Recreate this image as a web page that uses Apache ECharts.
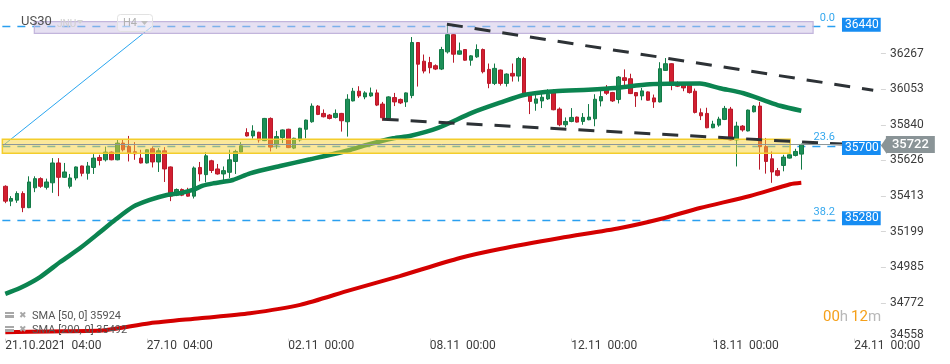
<!DOCTYPE html>
<html><head><meta charset="utf-8">
<script src="https://cdn.jsdelivr.net/npm/echarts@6/dist/echarts.min.js"></script>
<style>html,body{margin:0;padding:0;background:#fff}#c{width:950px;height:364px}</style>
</head><body><div id="c"></div>
<script>
// ---- data (H4 candles, US30) ----
const opens  = [35471,35382,35388,35428,35343,35462,35517,35465,35492,35611,35525,35471,35521,35593,35549,35584,35644,35630,35676,35630,35730,35709,35678,35640,35611,35696,35617,35684,35587,35418,35452,35446,35412,35584,35541,35624,35575,35545,35555,35620,35676,35793,35773,35795,35745,35878,35719,35763,35813,35700,35749,35813,35858,35952,35908,35898,35884,35908,35858,35983,36041,36007,36013,36031,35964,35878,36003,35992,35977,36015,36333,36221,36213,36194,36174,36277,36380,36263,36291,36227,36247,36291,36172,36088,36168,36088,36148,36132,36237,36029,35969,35983,35995,36033,35934,35840,35860,35886,35860,35870,35876,35983,36053,36033,35992,36122,36116,36033,36013,36037,36001,35977,36166,36206,36081,36077,36077,36041,35912,35908,35822,35838,35872,35934,35749,35832,35803,35918,35952,35709,35636,35565,35596,35640,35656,35664];
const closes = [35382,35398,35428,35343,35497,35517,35471,35497,35611,35525,35557,35521,35587,35549,35593,35640,35626,35676,35630,35730,35690,35670,35666,35611,35690,35617,35684,35575,35412,35452,35418,35412,35581,35545,35654,35566,35545,35565,35630,35680,35714,35773,35803,35749,35878,35706,35769,35809,35703,35759,35819,35868,35952,35902,35888,35878,35908,35864,35993,36041,36013,36031,36031,35958,35882,36007,35977,35971,36031,36333,36203,36162,36182,36174,36291,36380,36263,36283,36227,36253,36291,36158,36088,36178,36088,36144,36132,36237,36025,35980,35995,36005,36023,35930,35840,35860,35884,35856,35884,35886,35993,36009,36029,35983,36126,36106,36027,36013,36043,35987,35977,36176,36206,36077,36071,36061,36033,35914,35894,35822,35844,35874,35938,35749,35832,35809,35928,35952,35709,35620,35557,35537,35646,35660,35680,35722];
const lows   = [35370,35352,35372,35316,35340,35436,35462,35452,35432,35412,35521,35458,35507,35531,35511,35545,35596,35620,35627,35627,35680,35620,35630,35608,35608,35584,35557,35497,35382,35412,35412,35409,35398,35501,35495,35551,35541,35486,35521,35545,35673,35769,35757,35733,35742,35680,35696,35730,35700,35694,35739,35759,35852,35898,35884,35872,35878,35799,35769,35980,36001,35993,36007,35952,35864,35872,35952,35964,35947,35999,36069,36148,36148,36168,36168,36267,36212,36260,36224,36194,36241,36148,36059,36078,36075,36069,36099,36099,36019,35904,35924,35940,35989,35927,35831,35825,35855,35853,35840,35867,35831,35950,36019,35977,35968,36057,36024,35947,35987,35984,35941,35974,36163,36047,36066,36041,36027,35908,35868,35819,35819,35828,35868,35746,35590,35799,35800,35914,35571,35547,35492,35531,35561,35637,35650,35571];
const highs  = [35477,35412,35441,35441,35531,35531,35525,35517,35640,35640,35611,35545,35590,35595,35617,35664,35660,35709,35680,35749,35749,35773,35736,35690,35693,35709,35700,35706,35590,35458,35458,35462,35590,35617,35676,35630,35605,35590,35690,35690,35736,35819,35837,35798,35881,35884,35803,35812,35816,35762,35822,35871,35968,35958,35932,35904,35932,35911,36023,36061,36071,36041,36063,36051,35977,36011,36031,35997,36034,36366,36336,36261,36247,36202,36307,36438,36383,36333,36294,36257,36322,36297,36207,36207,36171,36148,36207,36247,36247,36035,36023,36029,36053,36053,35944,35884,35940,35889,35910,35964,36023,36055,36078,36037,36132,36172,36146,36036,36061,36040,36021,36215,36240,36209,36100,36087,36081,36057,35938,35942,35864,35888,35953,35947,35858,35838,35931,35958,35977,35761,35680,35581,35660,35663,35696,35727];

const sma50Idx = [0,2.5,5.9,9.3,12.7,16.1,18.6,21.7,24.5,27.4,29.6,31.8,33.5,35.3,38.6,41.5,46.6,51.7,58.5,61.3,65.8,68.6,73.4,79.1,83.9,88.1,93.2,98.9,103.4,109.3,117.8,121.2,125.2,128.6,131.4,135];
const sma50Val = [34826,34861,34927,35017,35101,35197,35269,35349,35389,35419,35429,35449,35475,35489,35509,35549,35593,35633,35689,35719,35759,35773,35821,35911,35972,36020,36041,36050,36060,36083,36087,36059,36029,35988,35954,35924];
const sma200Idx = [0,7.6,16.1,24.5,33,41.5,50,58.5,66.9,77.1,83.9,94.1,104.3,111.1,117.8,126.3,133.1,135];
const sma200Val = [34596,34601,34606,34650,34680,34710,34760,34849,34933,35041,35095,35161,35221,35275,35341,35413,35483,35492];

const xTickIdx  = [0,24,48,72,96,120,144];
const xTickText = ['21.10.2021  04:00','27.10  04:00','02.11  00:00','08.11  00:00','12.11  00:00','18.11  00:00','24.11  00:00'];
const yTicks = [34558,34772,34985,35199,35413,35626,35840,36053,36267];

const fibLevels = [36430, 35714, 35266];
const fibNames  = ['0.0', '23.6', '38.2'];
const priceTags = [36440, 35700, 35280];
const lastPrice = 35722;
const smaLegend = ['SMA [50, 0] 35924', 'SMA [200, 0] 35492'];

const upperTrend = [[74.9, 36443], [147.2, 36047]];
const lowerTrend = [[64.0, 35873], [142.1, 35724]];
const fibDiagonal = [[-0.44, 35714], [24.83, 36428]];
const yellowZone = [[-0.5, 35753], [133.1, 35669]];
const purpleZone = [[4.92, 36458], [137.0, 36388]];

// ---- chart ----
const chart = echarts.init(document.getElementById('c'), null, {renderer: 'canvas'});
const FONT = 'Roboto';
const candleData = opens.map((o, i) => [i, o, closes[i], lows[i], highs[i]]);
const tagEnd = 141.9;

const option = {
  animation: false,
  backgroundColor: '#ffffff',
  textStyle: {fontFamily: FONT},
  grid: {left: 2.35, right: 69.1, top: 8, bottom: 25.4, containLabel: false, outerBoundsMode: 'none'},
  xAxis: {
    type: 'value', min: -0.5, max: 148.5,
    splitLine: {show: false}, axisLine: {show: false, onZero: false},
    axisTick: {show: true, customValues: xTickIdx, length: 3, lineStyle: {color: '#d6d6d6'}},
    axisLabel: {
      customValues: xTickIdx, align: 'left', margin: 1,
      color: '#3b3b3b', fontSize: 12, fontFamily: FONT,
      formatter: v => { const k = xTickIdx.indexOf(Math.round(v)); return k >= 0 ? xTickText[k] : ''; }
    }
  },
  yAxis: {
    type: 'value', position: 'right', min: 34558, max: 36540, scale: true,
    splitLine: {show: false}, axisLine: {show: false, onZero: false},
    axisTick: {show: true, customValues: yTicks.slice(1), length: 5, lineStyle: {color: '#d6d6d6'}},
    axisLabel: {
      customValues: yTicks, margin: 9, color: '#3b3b3b', fontSize: 12, fontFamily: FONT,
      formatter: v => Math.round(v) === yTicks[0] ? '{lo|' + Math.round(v) + '}' : String(Math.round(v)),
      rich: {lo: {padding: [0, 0, 8, 0], color: '#3b3b3b', fontSize: 12, fontFamily: FONT}}
    }
  },
  series: [
    {
      name: 'fib', type: 'line', data: [], silent: true,
      markLine: {
        silent: true, symbol: ['none', 'none'], z: 1, animation: false,
        data: fibLevels.map((v, k) => [
          {coord: [-0.5, v], lineStyle: {color: '#2a9ff0', width: 1.3, type: [8, 7]},
           label: {show: true, formatter: fibNames[k], position: 'insideEndTop', distance: [7, 3],
                   color: '#35a8ee', fontSize: 11, fontFamily: FONT}},
          {coord: [tagEnd, v]}
        ]).concat([[
          {coord: fibDiagonal[0], lineStyle: {color: '#2aa6f0', width: 1, type: 'solid'}, label: {show: false}},
          {coord: fibDiagonal[1]}
        ]])
      }
    },
    {
      name: 'US30', type: 'candlestick', data: candleData, encode: {x: 0, y: [1, 2, 3, 4]},
      barWidth: 4, z: 2,
      itemStyle: {color: '#1d8f58', color0: '#d21f30', borderColor: '#137a46', borderColor0: '#b9192a', borderWidth: 1}
    },
    {
      name: 'SMA50', type: 'line', z: 3, showSymbol: false, smooth: 0.25,
      data: sma50Idx.map((x, i) => [x, sma50Val[i]]),
      lineStyle: {color: '#0b8450', width: 4.5}
    },
    {
      name: 'SMA200', type: 'line', z: 3, showSymbol: false, smooth: 0.25,
      data: sma200Idx.map((x, i) => [x, sma200Val[i]]),
      lineStyle: {color: '#d40000', width: 4}
    },
    {
      name: 'zones', type: 'line', data: [], silent: true,
      markArea: {
        silent: true, z: 4,
        data: [
          [{coord: yellowZone[0], itemStyle: {color: 'rgba(247,209,53,0.5)', borderColor: '#f3cd2c', borderWidth: 1.5}},
           {coord: yellowZone[1]}],
          [{coord: purpleZone[0], itemStyle: {color: 'rgba(205,193,229,0.5)', borderColor: '#c2b5dc', borderWidth: 1.2}},
           {coord: purpleZone[1]}]
        ]
      }
    },
    {
      name: 'trend', type: 'line', data: [], silent: true,
      markLine: {
        silent: true, symbol: ['none', 'none'], z: 5,
        lineStyle: {color: '#2d3236', width: 3, type: [16, 12]},
        label: {show: false},
        data: [
          [{coord: upperTrend[0]}, {coord: upperTrend[1]}],
          [{coord: lowerTrend[0]}, {coord: lowerTrend[1]}]
        ]
      }
    },
    {
      name: 'tags', type: 'line', data: [], silent: true,
      markLine: {
        silent: true, symbol: ['none', 'none'], z: 6,
        data: [[
          {coord: [-0.5, lastPrice], lineStyle: {color: '#8d979a', width: 1, type: 'solid'},
           label: {show: true, position: 'end', distance: 5, formatter: String(lastPrice),
                   backgroundColor: '#8a9497', color: '#ffffff', fontSize: 13, fontWeight: 500,
                   fontFamily: FONT, padding: [2, 6, 2, 6]}},
          {coord: [148.5, lastPrice]}
        ]].concat(priceTags.map(v => [
          {coord: [tagEnd - 1, v], lineStyle: {color: 'rgba(0,0,0,0)', width: 0.01, type: 'solid'},
           label: {show: true, position: 'end', distance: 0, formatter: String(v),
                   backgroundColor: '#168cf2', color: '#ffffff', fontSize: 12, fontFamily: FONT,
                   padding: [1, 2, 1, 3], lineHeight: 12}},
          {coord: [tagEnd, v]}
        ]))
      },
      markPoint: {
        silent: true, z: 6,
        data: [{coord: [148.5, lastPrice], symbol: 'path://M0,8 L6,0 L6,16 Z', symbolSize: [6, 17],
                symbolOffset: [3, 1], itemStyle: {color: '#8a9497'}, label: {show: false}}]
      }
    }
  ],
  graphic: [
    {type: 'text', left: 21, top: 15, z: 20, style: {text: 'US30', fontSize: 13, fontFamily: FONT, fill: '#505050'}},
    {type: 'text', left: 57, top: 19, z: 20, style: {text: 'JNU', fontSize: 10, fontFamily: FONT, fill: '#cfcfcf'}},
    {type: 'polygon', z: 20, shape: {points: [[77, 20], [83, 20], [80, 24]]}, style: {fill: '#d2d2d2'}},
    {type: 'rect', z: 20, shape: {x: 117.5, y: 14.5, width: 35, height: 17, r: 3}, style: {fill: 'rgba(255,255,255,0.35)', stroke: '#e2e2e2', lineWidth: 1}},
    {type: 'text', left: 123, top: 18, z: 21, style: {text: 'H4', fontSize: 11, fontFamily: FONT, fill: '#b0b0b0'}},
    {type: 'polygon', z: 21, shape: {points: [[141, 21], [148, 21], [144.5, 25]]}, style: {fill: '#bdbdbd'}},
    // legend icons
    {type: 'rect', z: 20, shape: {x: 5, y: 312, width: 9, height: 2}, style: {fill: '#a8a8a8'}},
    {type: 'rect', z: 20, shape: {x: 5, y: 315, width: 9, height: 3}, style: {fill: '#a8a8a8'}},
    {type: 'text', left: 19, top: 311, z: 20, style: {text: '✖', fontSize: 9, fontFamily: 'DejaVu Sans', fill: '#a8a8a8'}},
    {type: 'text', left: 32, top: 311, z: 20, style: {text: smaLegend[0], fontSize: 11, fontFamily: FONT, fill: '#555555'}},
    {type: 'rect', z: 20, shape: {x: 5, y: 326, width: 9, height: 2}, style: {fill: '#a8a8a8'}},
    {type: 'rect', z: 20, shape: {x: 5, y: 329, width: 9, height: 3}, style: {fill: '#a8a8a8'}},
    {type: 'text', left: 19, top: 325, z: 20, style: {text: '✖', fontSize: 9, fontFamily: 'DejaVu Sans', fill: '#a8a8a8'}},
    {type: 'text', left: 32, top: 325, z: 20, style: {text: smaLegend[1], fontSize: 11, fontFamily: FONT, fill: '#555555'}},
    // countdown
    {type: 'text', left: 823, top: 310, z: 20, style: {
      text: '{o|00}{g|h} {o|12}{g|m}', fontFamily: FONT,
      rich: {o: {fontSize: 15, fill: '#f5a01a', fontFamily: FONT}, g: {fontSize: 15, fill: '#b8b8b8', fontFamily: FONT}}
    }}
  ]
};
chart.setOption(option);
</script>
</body></html>
